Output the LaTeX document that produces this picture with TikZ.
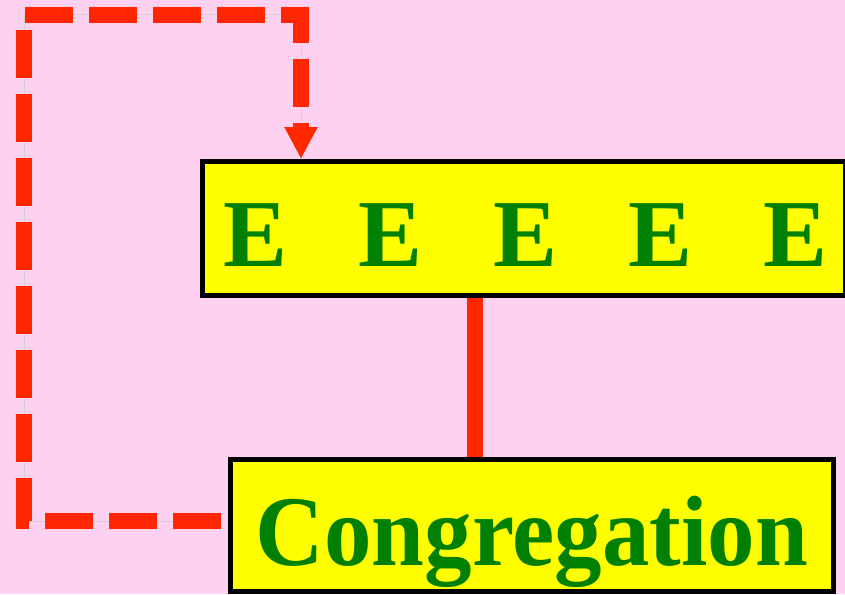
\documentclass[tikz,border=0pt]{standalone}
\usepackage{fontspec}
\setmainfont{Liberation Serif}
\newfontfamily\narrowserif[FakeStretch=0.95]{Liberation Serif}
\usetikzlibrary{arrows.meta}
\definecolor{bgpink}{RGB}{255,209,240}
\definecolor{linkred}{RGB}{255,38,0}
\definecolor{boxyellow}{RGB}{255,255,0}
\definecolor{textgreen}{RGB}{0,128,0}
\newcommand\egap{\hspace{71pt}}

\begin{document}
\begin{tikzpicture}[x=1pt,y=-1pt,
  labelbox/.style={draw=black,line width=5pt,fill=boxyellow,text=textgreen,inner sep=0pt},
  solidlink/.style={draw=linkred,line width=16pt},
  dashlink/.style={draw=linkred,line width=16pt,dash pattern=on 48pt off 16pt,
    -{Triangle[width=31pt,length=32pt]}},
  guideline/.style={draw=black!18,line width=1pt}]
\fill[bgpink] (0,0) rectangle (845,594);
\useasboundingbox (0,0) rectangle (845,594);
\clip (0,0) rectangle (845,594);

\node[labelbox,minimum width=643pt,minimum height=134pt,text height=75pt,text depth=0pt,
  font=\bfseries\fontsize{96}{96}\selectfont] (elders) at (524,228.5)
  {\hspace{3pt}E\egap E\egap E\egap E\egap E};
\node[labelbox,minimum width=603pt,minimum height=132pt,text height=79pt,text depth=0pt,
  font=\narrowserif\bfseries\fontsize{100}{100}\selectfont] (congregation) at (532,525.5)
  {Congregation};

\coordinate (stem) at (475,0);
\coordinate (loopcorner) at (24,521);
\coordinate (looptop) at (301,15);

\draw[solidlink] (elders.south -| stem) -- (congregation.north -| stem);
\draw[guideline,shorten <=7pt] (congregation.west |- loopcorner) -- (loopcorner) |- (looptop) -- (elders.north -| looptop);
\draw[dashlink,shorten <=7pt] (congregation.west |- loopcorner) -- (loopcorner) |- (looptop) -- (elders.north -| looptop);
\end{tikzpicture}
\end{document}
